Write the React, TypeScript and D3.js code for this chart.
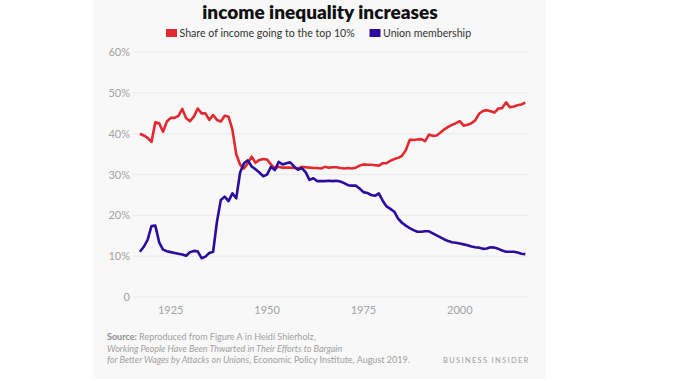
import React from "react";
import * as d3 from "d3";

const startYear = 1917;
const topTenShare = [
  40.0, 39.6, 39.0, 38.0, 42.8, 42.6, 40.5, 43.0, 43.9, 43.9,
  44.4, 46.1, 43.8, 43.1, 44.2, 46.2, 45.0, 45.0, 43.4, 44.6,
  43.4, 43.0, 44.4, 44.2, 41.0, 35.0, 32.4, 31.5, 32.8, 34.4,
  32.9, 33.6, 33.8, 33.7, 32.5, 31.5, 31.9, 31.7, 31.7, 31.7,
  31.6, 31.5, 31.9, 31.8, 31.7, 31.6, 31.6, 31.5, 31.9, 31.7,
  31.8, 31.8, 31.6, 31.5, 31.6, 31.5, 31.7, 32.2, 32.5, 32.4,
  32.4, 32.3, 32.2, 32.8, 32.8, 33.4, 33.8, 34.1, 34.6, 36.0,
  38.5, 38.5, 38.6, 38.7, 38.2, 39.8, 39.5, 39.6, 40.3, 41.1,
  41.7, 42.2, 42.6, 43.1, 42.0, 42.2, 42.6, 43.3, 44.9, 45.6,
  45.8, 45.5, 45.2, 46.2, 46.3, 47.7, 46.5, 46.7, 47.0, 47.2,
  47.6,
];
const unionMembership = [
  11.1, 12.3, 14.0, 17.4, 17.5, 13.4, 11.6, 11.2, 11.0, 10.8,
  10.6, 10.4, 10.1, 11.0, 11.3, 11.2, 9.5, 9.9, 10.8, 11.1,
  18.5, 23.8, 24.6, 23.5, 25.4, 24.2, 30.5, 32.8, 33.5, 32.0,
  31.3, 30.5, 29.6, 30.0, 31.9, 31.1, 33.1, 32.5, 32.8, 33.0,
  32.0, 31.2, 31.6, 30.6, 28.7, 29.1, 28.4, 28.4, 28.4, 28.5,
  28.4, 28.5, 28.3, 27.9, 27.4, 27.3, 27.3, 26.6, 25.7, 25.5,
  25.0, 24.8, 25.4, 23.6, 22.2, 21.6, 20.9, 19.2, 18.2, 17.5,
  16.9, 16.4, 16.0, 16.0, 16.1, 16.1, 15.6, 15.1, 14.6, 14.1,
  13.7, 13.4, 13.3, 13.1, 12.9, 12.7, 12.4, 12.2, 12.1, 11.8,
  11.9, 12.2, 12.1, 11.8, 11.4, 11.1, 11.1, 11.1, 10.9, 10.6,
  10.5,
];
const xTicks = [1925, 1950, 1975, 2000];
const yTicks = [0, 10, 20, 30, 40, 50, 60];
const seriesNames = ["Share of income going to the top 10%", "Union membership"];
const titleText = "income inequality increases";

const RED = "#e3282f";
const BLUE = "#2b0c9e";
const FONT = "Lato, 'Open Sans', sans-serif";

export default function App() {
  const x = d3.scaleLinear().domain([1917, 2017]).range([139.9, 525.3]);
  const y = d3.scaleLinear().domain([0, 60]).range([297, 52.2]);
  const line = d3
    .line<number>()
    .x((_, i) => x(startYear + i))
    .y((d) => y(d));

  return (
    <svg
      width={678}
      height={381}
      style={{ position: "absolute", left: 0, top: 0, background: "#fff" }}
      fontFamily={FONT}
    >
      <rect x={93} y={0} width={453} height={379} fill="#f8f8f8" />
      <text
        x={320}
        y={19}
        textAnchor="middle"
        fontSize={19}
        fontWeight={800}
        fill="#111"
      >
        {titleText}
      </text>
      {/* legend */}
      <rect x={166} y={29} width={11} height={8} fill={RED} />
      <text x={179.5} y={37} fontSize={10.6} fill="#333">
        {seriesNames[0]}
      </text>
      <rect x={369.5} y={29} width={11} height={8} fill={BLUE} />
      <text x={383} y={37} fontSize={10.6} fill="#333">
        {seriesNames[1]}
      </text>
      {/* grid */}
      {yTicks.map((t) => (
        <g key={t}>
          <line x1={133} x2={528} y1={y(t)} y2={y(t)} stroke="#e9e9e9" strokeWidth={1} />
          <text
            x={130}
            y={y(t)}
            dy="0.36em"
            textAnchor="end"
            fontSize={11}
            fill="#a3a3a3"
          >
            {t === 0 ? "0" : `${t}%`}
          </text>
        </g>
      ))}
      {xTicks.map((t) => (
        <text key={t} x={x(t)} y={314} textAnchor="middle" fontSize={11} fill="#a3a3a3">
          {t}
        </text>
      ))}
      <path d={line(topTenShare) ?? ""} fill="none" stroke={RED} strokeWidth={2.6} strokeLinejoin="round" />
      <path d={line(unionMembership) ?? ""} fill="none" stroke={BLUE} strokeWidth={2.6} strokeLinejoin="round" />
      {/* source */}
      <g fontSize={9} fill="#a0a0a0">
        <text x={107} y={340}>
          <tspan fontWeight={700} fill="#8f8f8f">Source:</tspan>
          <tspan> Reproduced from Figure A in Heidi Shierholz,</tspan>
        </text>
        <text x={107} y={351.7} fontStyle="italic">
          Working People Have Been Thwarted in Their Efforts to Bargain
        </text>
        <text x={107} y={363.4}>
          <tspan fontStyle="italic">for Better Wages by Attacks on Unions</tspan>
          <tspan>, Economic Policy Institute, August 2019.</tspan>
        </text>
      </g>
      <text x={443} y={363} fontSize={7.5} letterSpacing={1.3} fill="#aaaaaa" fontWeight={600}>
        BUSINESS INSIDER
      </text>
    </svg>
  );
}
